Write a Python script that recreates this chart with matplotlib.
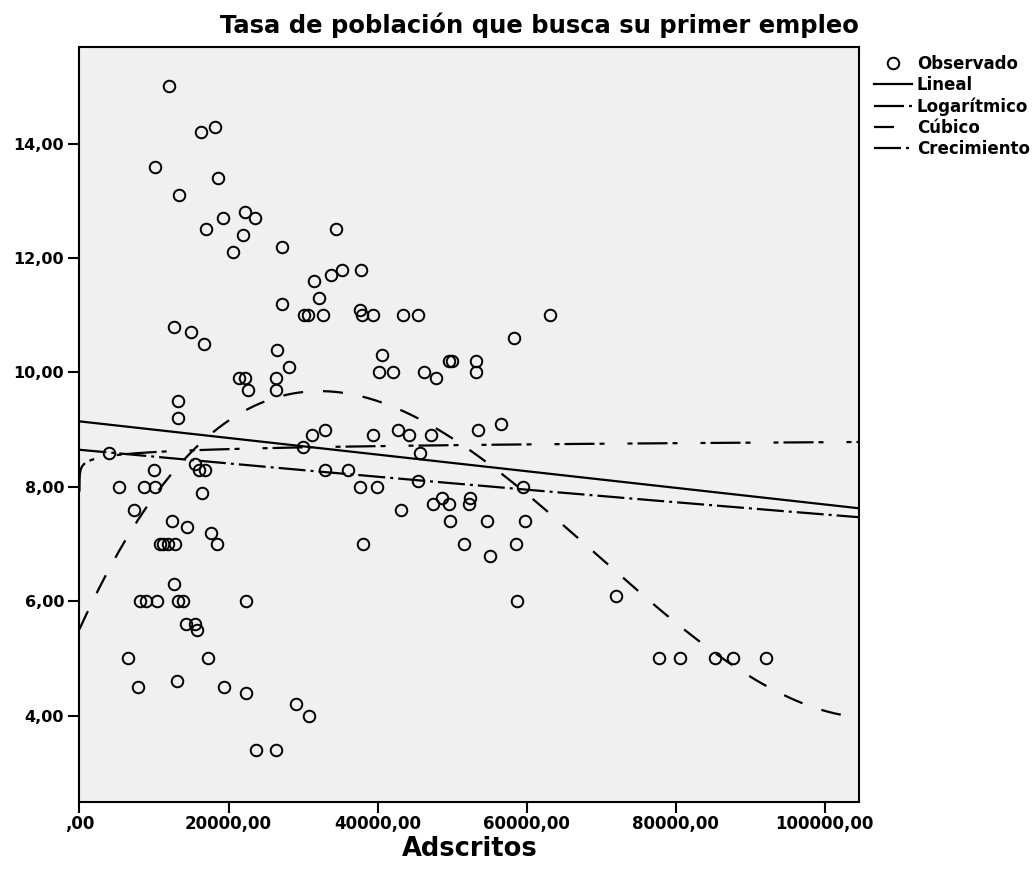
import numpy as np
import matplotlib
matplotlib.use("Agg")
from matplotlib import pyplot as plt
from matplotlib.ticker import FuncFormatter

adscritos = [
    12000, 16260, 18230, 10090, 18630, 13390, 19300, 22250, 23510, 16980,
    21900, 20600, 27180, 34400, 31470, 33710, 35230, 37820, 32100, 27180,
    30130, 30670, 32680, 37640, 37950, 39350, 43370, 45390, 63180, 12640,
    15010, 16750, 26460, 28070, 58270, 40600, 40150, 42030, 46270, 47840,
    49540, 49950, 53210, 53210, 21360, 22250, 26410, 22570, 26410, 13220,
    13220, 31160, 32990, 39350, 42700, 44180, 47130, 53440, 56570, 30030,
    3960, 45660, 15540, 16000, 16800, 9960, 32950, 36000, 5300, 8660,
    10170, 37680, 39960, 59560, 45470, 16480, 7270, 43150, 48600, 52400,
    47480, 49590, 52270, 12410, 49680, 54730, 59790, 14430, 17650, 10840,
    11200, 11880, 12780, 18500, 38000, 51600, 58540, 55090, 12640, 72000,
    8080, 8880, 10440, 13220, 13890, 22390, 58710, 14330, 15460, 15810,
    6510, 17200, 77740, 80550, 85330, 87740, 92130, 7890, 19350, 13120,
    22390, 29100, 30760, 23650, 26370,
]
tasa = [
    15.0, 14.2, 14.3, 13.6, 13.4, 13.1, 12.7, 12.8, 12.7, 12.5,
    12.4, 12.1, 12.2, 12.5, 11.6, 11.7, 11.8, 11.8, 11.3, 11.2,
    11.0, 11.0, 11.0, 11.1, 11.0, 11.0, 11.0, 11.0, 11.0, 10.8,
    10.7, 10.5, 10.4, 10.1, 10.6, 10.3, 10.0, 10.0, 10.0, 9.9,
    10.2, 10.2, 10.2, 10.0, 9.9, 9.9, 9.9, 9.7, 9.7, 9.5,
    9.2, 8.9, 9.0, 8.9, 9.0, 8.9, 8.9, 9.0, 9.1, 8.7,
    8.6, 8.6, 8.4, 8.3, 8.3, 8.3, 8.3, 8.3, 8.0, 8.0,
    8.0, 8.0, 8.0, 8.0, 8.1, 7.9, 7.6, 7.6, 7.8, 7.8,
    7.7, 7.7, 7.7, 7.4, 7.4, 7.4, 7.4, 7.3, 7.2, 7.0,
    7.0, 7.0, 7.0, 7.0, 7.0, 7.0, 7.0, 6.8, 6.3, 6.1,
    6.0, 6.0, 6.0, 6.0, 6.0, 6.0, 6.0, 5.6, 5.6, 5.5,
    5.0, 5.0, 5.0, 5.0, 5.0, 5.0, 5.0, 4.5, 4.5, 4.6,
    4.4, 4.2, 4.0, 3.4, 3.4,
]
x_ticks = [0, 20000, 40000, 60000, 80000, 100000]
y_ticks = [4, 6, 8, 10, 12, 14]
x_max = 104600

x = np.array(adscritos, dtype=float)
y = np.array(tasa, dtype=float)

plt.rcParams['font.family'] = 'DejaVu Sans'
plt.rcParams['font.weight'] = 'bold'
plt.rcParams['lines.scale_dashes'] = False

fig = plt.figure(figsize=(10.36, 8.8), dpi=100)
ax = fig.add_axes([0.0767, 0.0892, 0.7525, 0.8574])
ax.set_facecolor('#f0f0f0')

# curve estimation, like SPSS does it
xs = np.linspace(0, x_max, 600)
xl = np.geomspace(1, x_max, 800)
lin = np.polyfit(x, y, 1)
b_log = np.polyfit(np.log(x), y, 1)
cub = np.polyfit(x / 1e4, y, 3)
grw = np.polyfit(x, np.log(y), 1)

px = 0.72  # px -> pt at 100 dpi
lw = 1.6
ax.plot(x, y, 'o', ms=8.3, mfc='none', mec='black', mew=1.4,
        label='Observado', zorder=3)
ax.plot(xs, np.polyval(lin, xs), color='black', lw=lw, label='Lineal', zorder=4)
ax.plot(xl, np.polyval(b_log, np.log(xl)), color='black', lw=lw,
        dashes=[30*px, 5*px, 5*px, 23*px, 5*px, 5*px], label='Logarítmico', zorder=4)
ax.plot(xs, np.polyval(cub, xs / 1e4), color='black', lw=lw,
        dashes=[20*px, 20*px], label='Cúbico', zorder=4)
ax.plot(xs, np.exp(np.polyval(grw, xs)), color='black', lw=lw,
        dashes=[27*px, 5*px, 3*px, 5*px], label='Crecimiento', zorder=4)

ax.set_xlim(0, x_max)
ax.set_ylim(2.5, 15.69)
ax.set_xticks(x_ticks)
ax.set_yticks(y_ticks)

def fmt(v, pos):
    s = f"{v:.2f}".replace('.', ',')
    return s[1:] if s.startswith('0,') else s

ax.xaxis.set_major_formatter(FuncFormatter(fmt))
ax.yaxis.set_major_formatter(FuncFormatter(fmt))
ax.tick_params(direction='out', length=8, width=1.5, labelsize=12, pad=2)
ax.tick_params(axis='y', labelsize=11.5, pad=3)
for lab in ax.get_xticklabels() + ax.get_yticklabels():
    lab.set_fontweight('bold')
for sp in ax.spines.values():
    sp.set_linewidth(1.5)

fig.text(0.521, 1 - 33/880, 'Tasa de población que busca su primer empleo',
         ha='center', va='baseline', fontsize=17.5, fontweight='bold')
fig.text(0.453, 1 - 856/880, 'Adscritos', ha='center', va='baseline',
         fontsize=18.5, fontweight='bold')

leg = ax.legend(loc='upper left', bbox_to_anchor=(1.019, 0.989), frameon=False,
                fontsize=12, handlelength=2.26, handletextpad=0.32,
                labelspacing=0.18, borderaxespad=0.0, borderpad=0.0)
for t in leg.get_texts():
    t.set_fontweight('bold')

fig.savefig('out.png', dpi=100)
